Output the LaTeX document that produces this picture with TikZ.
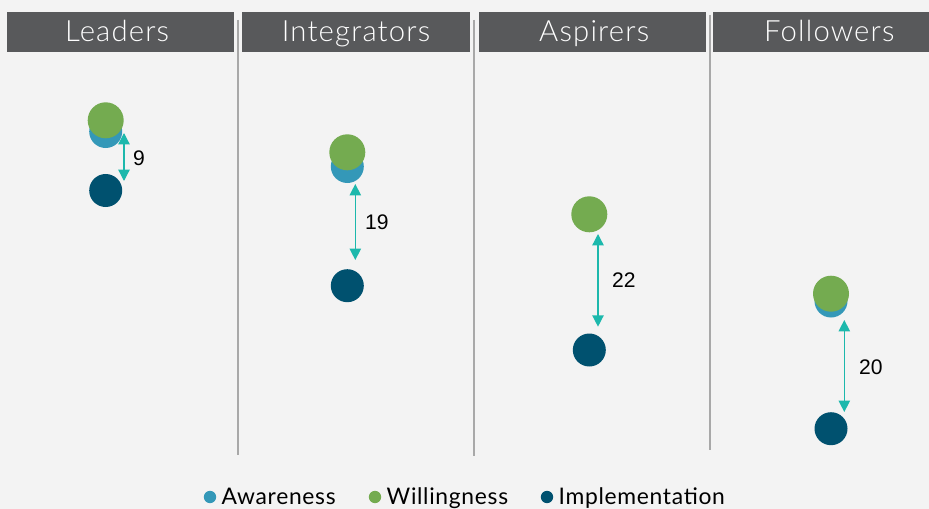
\documentclass[tikz,border=0pt]{standalone}
\usepackage{fontspec}
\setmainfont{Lato}
\newfontfamily\headfont{Lato Light}[LetterSpace=4]
\newfontfamily\numfont{Liberation Sans}
\usetikzlibrary{arrows.meta}
\definecolor{bggray}{HTML}{F3F3F3}
\definecolor{headgray}{HTML}{58595B}
\definecolor{sepgray}{HTML}{A8A8A8}
\definecolor{awcol}{HTML}{3498B8}
\definecolor{wicol}{HTML}{74AB50}
\definecolor{imcol}{HTML}{00516F}
\definecolor{gapcol}{HTML}{1CB8AC}
\tikzstyle{head} = [rectangle, minimum height=1.2cm, text centered, inner sep=0pt, fill=headgray, text=white, font=\headfont\fontsize{25}{25}\selectfont, text height=0.62cm, text depth=0.06cm]
\tikzstyle{aware} = [circle, minimum size=0.99cm, inner sep=0pt, fill=awcol]
\tikzstyle{will} = [circle, minimum size=1.08cm, inner sep=0pt, fill=wicol]
\tikzstyle{impl} = [circle, minimum size=0.99cm, inner sep=0pt, fill=imcol]
\tikzstyle{sep} = [sepgray, line width=1.4pt]
\tikzstyle{arrow} = [gapcol, line width=1.1pt, {Triangle[width=0.34cm,length=0.34cm]}-{Triangle[width=0.34cm,length=0.34cm]}]
\tikzstyle{gap} = [anchor=west, inner sep=0pt, text=black, font=\numfont\fontsize{18}{18}\selectfont]
\tikzstyle{key} = [circle, minimum size=0.37cm, inner sep=0pt]
\tikzstyle{keytext} = [anchor=base west, inner sep=0pt, font=\addfontfeatures{LetterSpace=3}\fontsize{19.5}{19.5}\selectfont]

\begin{document}
\begin{tikzpicture}[x=0.03cm, y=-0.03cm]
	\fill [bggray] (0,0) rectangle (929,509);
	\useasboundingbox (0,0) rectangle (929,509);
	% column heads
	\node (leadhead) [head, minimum width=6.81cm] at (120.5,32) {\hspace*{-0.2cm}Leaders};
	\node (integhead) [head, minimum width=6.84cm] at (356,32) {Integrators};
	\node (asphead) [head, minimum width=6.81cm] at (592.5,32) {\hspace*{0.1cm}Aspirers};
	\node (follhead) [head, minimum width=6.48cm, text width=6.48cm] at (821,32) {\hspace*{0.5cm}Followers};
	\draw [sep] (238,20) -- (238,455);
	\draw [sep] (474,20) -- (474,456);
	\draw [sep] (710,15) -- (710,450);
	% dots
	\node (leadaw) [aware] at (105.7,131.5) {};
	\node (leadwi) [will] at (105.7,120.3) {};
	\node (leadim) [impl] at (105.7,190.5) {};
	\node (integaw) [aware] at (347.3,166.5) {};
	\node (integwi) [will] at (347.3,152.3) {};
	\node (integim) [impl] at (347.3,285.7) {};
	\node (aspaw) [aware] at (589.3,214.3) {};
	\node (aspwi) [will] at (589.3,214.3) {};
	\node (aspim) [impl] at (589.3,350) {};
	\node (follaw) [aware] at (831,301) {};
	\node (follwi) [will] at (831,293.7) {};
	\node (follim) [impl] at (831,428.7) {};
	% gaps
	\coordinate (leadtop) at (124,133);
	\coordinate (leadbot) at (124,181);
	\coordinate (integtop) at (355.3,184);
	\coordinate (integbot) at (355.3,260);
	\coordinate (asptop) at (598,234);
	\coordinate (aspbot) at (598,326.7);
	\coordinate (folltop) at (844.3,320);
	\coordinate (follbot) at (844.3,412);
	\draw [arrow] (leadtop) -- (leadbot);
	\draw [arrow] (integtop) -- (integbot);
	\draw [arrow] (asptop) -- (aspbot);
	\draw [arrow] (folltop) -- (follbot);
	\node (leadgap) [gap] at (133,158) {9};
	\node (integgap) [gap] at (365,222) {19};
	\node (aspgap) [gap] at (612,280) {22};
	\node (follgap) [gap] at (859,367) {20};
	% legend
	\node (awkey) [key, fill=awcol] at (210,497) {};
	\node (wikey) [key, fill=wicol] at (375,497) {};
	\node (imkey) [key, fill=imcol] at (547,497) {};
	\node (awtext) [keytext] at (221.5,504) {Awareness};
	\node (witext) [keytext] at (386.5,504) {Willingness};
	\node (imtext) [keytext] at (558.5,504) {Implementation};
\end{tikzpicture}
\end{document}
